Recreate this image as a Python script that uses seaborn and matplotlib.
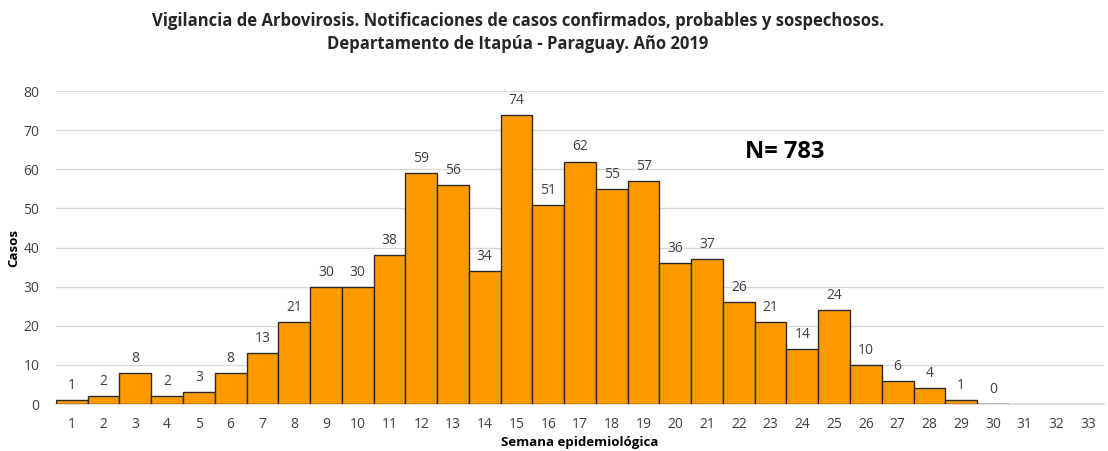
import numpy as np
import pandas as pd
import matplotlib
matplotlib.use("Agg")
import matplotlib.pyplot as plt
import seaborn as sns

# Casos por semana epidemiológica (semanas 31-33 sin dato)
semanas = [str(i) for i in range(1, 34)]
casos = [1, 2, 8, 2, 3, 8, 13, 21, 30, 30, 38, 59, 56, 34, 74, 51, 62, 55, 57,
         36, 37, 26, 21, 14, 24, 10, 6, 4, 1, 0, np.nan, np.nan, np.nan]
total = 783

sns.set_theme(style="white")
plt.rcParams['font.family'] = ['Open Sans', 'DejaVu Sans']

df = pd.DataFrame({'Semana': semanas, 'Casos': casos})

fig = plt.figure(figsize=(11.08, 4.51), dpi=100)
ax = fig.add_axes([0.0505, 0.104, 0.946, 0.694])

sns.barplot(data=df, x='Semana', y='Casos', order=semanas, color='#FF9900',
            width=1.0, edgecolor='#2b2b2b', linewidth=1.0, saturation=1,
            ax=ax, zorder=3)

# Etiquetas de valores
for i, v in enumerate(casos):
    if not np.isnan(v):
        ax.text(i, v + 1.8, f"{int(v)}", ha='center', va='bottom',
                fontsize=10, color='#404040')

ax.set_ylim(0, 80)
ax.set_xlim(-0.5, len(semanas) - 0.5)
ax.set_yticks(range(0, 81, 10))
ax.yaxis.grid(True, color='#d9d9d9', linewidth=1, zorder=0)
ax.set_axisbelow(True)
for s in ['top', 'right', 'left']:
    ax.spines[s].set_visible(False)
ax.spines['bottom'].set_color('#d9d9d9')
ax.tick_params(axis='both', length=0, labelsize=10, colors='#404040')
ax.tick_params(axis='x', pad=9)
ax.tick_params(axis='y', pad=12)

ax.set_xlabel('Semana epidemiológica', fontsize=9.5, fontweight='bold',
              color='black', labelpad=3)
ax.set_ylabel('Casos', fontsize=9.5, fontweight='bold', color='black',
              labelpad=2)

ax.text(0.695, 0.805, f"N= {total}", transform=ax.transAxes, ha='center',
        va='center', fontsize=17, fontweight='bold', color='black')

fig.text(0.4675, 0.927, 'Vigilancia de Arbovirosis. Notificaciones de casos '
         'confirmados, probables y sospechosos.\nDepartamento de Itapúa - '
         'Paraguay. Año 2019', ha='center', va='center', fontsize=12,
         fontweight='bold', linespacing=1.35)

fig.savefig('out.png', dpi=100)
